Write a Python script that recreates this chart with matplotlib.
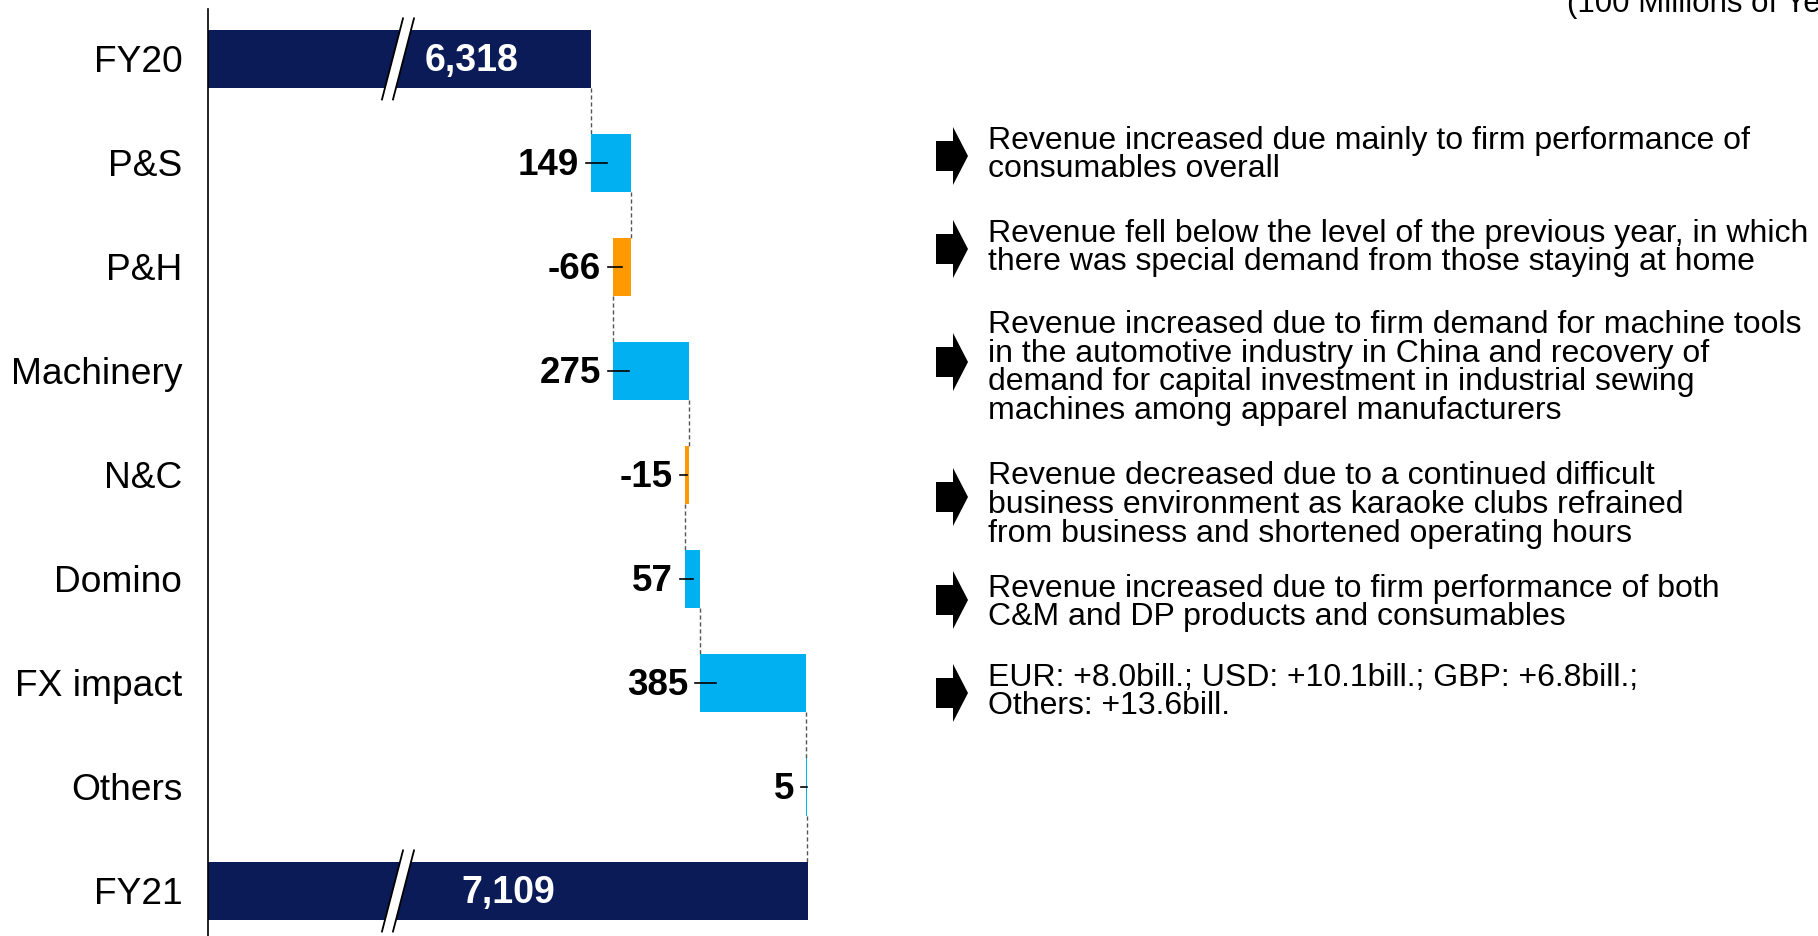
import numpy as np
import matplotlib.pyplot as plt
from matplotlib.patches import Polygon
from matplotlib.transforms import blended_transform_factory

plt.rcParams['font.family'] = ['Liberation Sans', 'DejaVu Sans']

# data
categories = ['FY20', 'P&S', 'P&H', 'Machinery', 'N&C', 'Domino', 'FX impact', 'Others', 'FY21']
fy20 = 6318
fy21 = 7109
deltas = [149, -66, 275, -15, 57, 385, 5]
total_labels = ['6,318', '7,109']
notes = [
    'Revenue increased due mainly to firm performance of\nconsumables overall',
    'Revenue fell below the level of the previous year, in which\nthere was special demand from those staying at home',
    'Revenue increased due to firm demand for machine tools\nin the automotive industry in China and recovery of\ndemand for capital investment in industrial sewing\nmachines among apparel manufacturers',
    'Revenue decreased due to a continued difficult\nbusiness environment as karaoke clubs refrained\nfrom business and shortened operating hours',
    'Revenue increased due to firm performance of both\nC&M and DP products and consumables',
    'EUR: +8.0bill.; USD: +10.1bill.; GBP: +6.8bill.;\nOthers: +13.6bill.',
]
units = '(100 Millions of Yen)'

navy = '#0A1B58'
up_col = '#00B0F0'
down_col = '#FF9900'

W, H = 1818, 936
fig = plt.figure(figsize=(W / 100, H / 100), dpi=100)
ax = fig.add_axes([208 / W, 0, 622 / W, 927 / H])

xmin, xmax = 4925, 7190
px = 622 / (xmax - xmin)  # pixels per unit
bh = 0.56

ax.set_xlim(xmin, xmax)
ax.set_ylim(8.433, -0.48)

# total bars
ax.barh(0, fy20, left=0, height=bh, color=navy, zorder=2)
ax.barh(8, fy21, left=0, height=bh, color=navy, zorder=2)
tr = blended_transform_factory(ax.transAxes, ax.transData)
ax.text(0.424, 0.02, total_labels[0], transform=tr, ha='center', va='center',
        color='white', fontsize=27, fontweight='bold', zorder=5)
ax.text(0.482, 8.02, total_labels[1], transform=tr, ha='center', va='center',
        color='white', fontsize=27, fontweight='bold', zorder=5)

# break marks
for yy in [0, 8]:
    x0, dx, w, hh = 0.2797, 0.0338, 0.0177, 0.39
    poly = Polygon([(x0, yy + hh), (x0 + dx, yy - hh), (x0 + dx + w, yy - hh), (x0 + w, yy + hh)],
                   closed=True, facecolor='white', edgecolor='none', transform=tr, zorder=3)
    ax.add_patch(poly)
    ax.plot([x0, x0 + dx], [yy + hh, yy - hh], color='black', lw=1.3, transform=tr, zorder=4)
    ax.plot([x0 + w, x0 + dx + w], [yy + hh, yy - hh], color='black', lw=1.3, transform=tr, zorder=4)

# step bars
cur = fy20
for i, d in enumerate(deltas):
    y = i + 1
    left = cur if d >= 0 else cur + d
    col = up_col if d >= 0 else down_col
    ax.barh(y, abs(d), left=left, height=bh, color=col, zorder=2)
    # connector from previous bar
    ax.plot([cur, cur], [y - 1 + bh / 2, y - bh / 2], color='#555555', lw=1, ls=(0, (3, 2)), zorder=1)
    # leader and label
    lw_units = min(abs(d) / 2, 16 / px)
    ax.plot([left - 5 / px, left + lw_units], [y, y], color='black', lw=1.2, zorder=4)
    ax.text(left - 12 / px, y + 0.02, str(d), ha='right', va='center', fontsize=26.5,
            fontweight='bold', color='black')
    cur += d
ax.plot([cur, cur], [7 + bh / 2, 8 - bh / 2], color='#555555', lw=1, ls=(0, (3, 2)), zorder=1)

ax.set_yticks(range(len(categories)))
ax.set_yticklabels(categories, fontsize=26.7)
ax.tick_params(axis='y', length=0, pad=18.5)
ax.set_xticks([])
for s in ['top', 'right', 'bottom']:
    ax.spines[s].set_visible(False)
ax.spines['left'].set_linewidth(1.2)
ax.patch.set_visible(False)

# notes with arrows
note_y = [155, 248, 368, 505, 603, 692]
arrow_y = [156, 249, 362, 497, 600, 693]
for t, yt, ya in zip(notes, note_y, arrow_y):
    fig.text(988 / W, 1 - yt / H, t, ha='left', va='center', fontsize=23, linespacing=0.95)
    pts = [(936, ya - 15), (953, ya - 15), (953, ya - 29), (968, ya), (953, ya + 29),
           (953, ya + 15), (936, ya + 15)]
    pts = [(x / W, 1 - yy / H) for x, yy in pts]
    fig.patches.append(Polygon(pts, closed=True, facecolor='black', edgecolor='none',
                               transform=fig.transFigure))

fig.text(1567 / W, 1 - 12 / H, units, ha='left', va='baseline', fontsize=22.5)

fig.savefig('out.png', dpi=100)
